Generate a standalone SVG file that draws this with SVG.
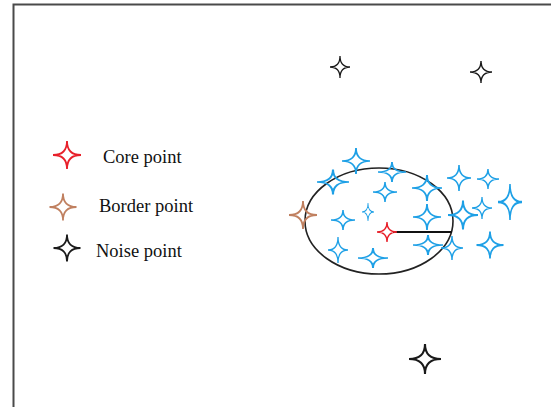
<svg xmlns="http://www.w3.org/2000/svg" xmlns:xlink="http://www.w3.org/1999/xlink" width="551" height="407" viewBox="0 0 551 407">
<style>
.st{fill:none;stroke-width:1.3;vector-effect:non-scaling-stroke;stroke-linejoin:miter}
.core{stroke:#e8202a}
.bord{stroke:#c08060}
.noise{stroke:#1a1a1a}
.clus{stroke:#1ea0e6}
.lbl{font-family:"Liberation Serif","Times New Roman",serif;font-size:18.5px;fill:#111}
</style>
<defs>
<path id="s" d="M0,-10 Q0,0 10,0 Q0,0 0,10 Q0,0 -10,0 Q0,0 0,-10Z"/>
</defs>
<rect x="13.5" y="4.5" width="620" height="520" fill="#fff" stroke="#4a4a4a" stroke-width="2"/>
<g id="legend">
<g id="legend-core"><use href="#s" class="st core" transform="translate(67,155) scale(1.4)"/><text class="lbl" x="103" y="163">Core point</text></g>
<g id="legend-border"><use href="#s" class="st bord" transform="translate(63,207) scale(1.35)"/><text class="lbl" x="99" y="212">Border point</text></g>
<g id="legend-noise"><use href="#s" class="st noise" transform="translate(67,248) scale(1.35)"/><text class="lbl" x="96" y="257">Noise point</text></g>
</g>
<g id="eps-circle"><ellipse cx="379" cy="221" rx="74" ry="53" fill="none" stroke="#222" stroke-width="1.6"/></g>
<g id="connectors"><line x1="393" y1="232" x2="452" y2="232" stroke="#111" stroke-width="1.8"/></g>
<g id="noise1"><use href="#s" class="st noise" transform="translate(340,67) scale(1,1.1)"/></g>
<g id="noise2"><use href="#s" class="st noise" transform="translate(481,72) scale(1.1,1.1)"/></g>
<g id="noise3"><use href="#s" class="st noise" transform="translate(425,359) scale(1.6,1.5)"/></g>
<g id="border1"><use href="#s" class="st bord" transform="translate(303,215) scale(1.4,1.4)"/></g>
<g id="core1"><use href="#s" class="st core" transform="translate(387,232) scale(1,1)"/></g>
<g id="cluster">
<g id="c1"><use href="#s" class="st clus" transform="translate(356,161) scale(1.4,1.3)"/></g>
<g id="c2"><use href="#s" class="st clus" transform="translate(333,182) scale(1.6,1.25)"/></g>
<g id="c3"><use href="#s" class="st clus" transform="translate(392,172) scale(1.4,1)"/></g>
<g id="c4"><use href="#s" class="st clus" transform="translate(385,192) scale(1.2,1)"/></g>
<g id="c5"><use href="#s" class="st clus" transform="translate(427,188) scale(1.5,1.3)"/></g>
<g id="c6"><use href="#s" class="st clus" transform="translate(459,178) scale(1.2,1.3)"/></g>
<g id="c7"><use href="#s" class="st clus" transform="translate(488,179) scale(1.1,1)"/></g>
<g id="c8"><use href="#s" class="st clus" transform="translate(510,202) scale(1.2,1.8)"/></g>
<g id="c9"><use href="#s" class="st clus" transform="translate(463,215) scale(1.5,1.45)"/></g>
<g id="c10"><use href="#s" class="st clus" transform="translate(482,208) scale(1,1.1)"/></g>
<g id="c11"><use href="#s" class="st clus" transform="translate(427,217) scale(1.4,1.3)"/></g>
<g id="c12"><use href="#s" class="st clus" transform="translate(343,220) scale(1.2,1)"/></g>
<g id="c13"><use href="#s" class="st clus" transform="translate(368,212) scale(0.6,0.9)"/></g>
<g id="c14"><use href="#s" class="st clus" transform="translate(338,250) scale(1,1.3)"/></g>
<g id="c15"><use href="#s" class="st clus" transform="translate(373,258) scale(1.5,1)"/></g>
<g id="c16"><use href="#s" class="st clus" transform="translate(428,245) scale(1.5,1)"/></g>
<g id="c17"><use href="#s" class="st clus" transform="translate(452,248) scale(1.1,1.2)"/></g>
<g id="c18"><use href="#s" class="st clus" transform="translate(490,245) scale(1.35,1.35)"/></g>
</g>
</svg>
